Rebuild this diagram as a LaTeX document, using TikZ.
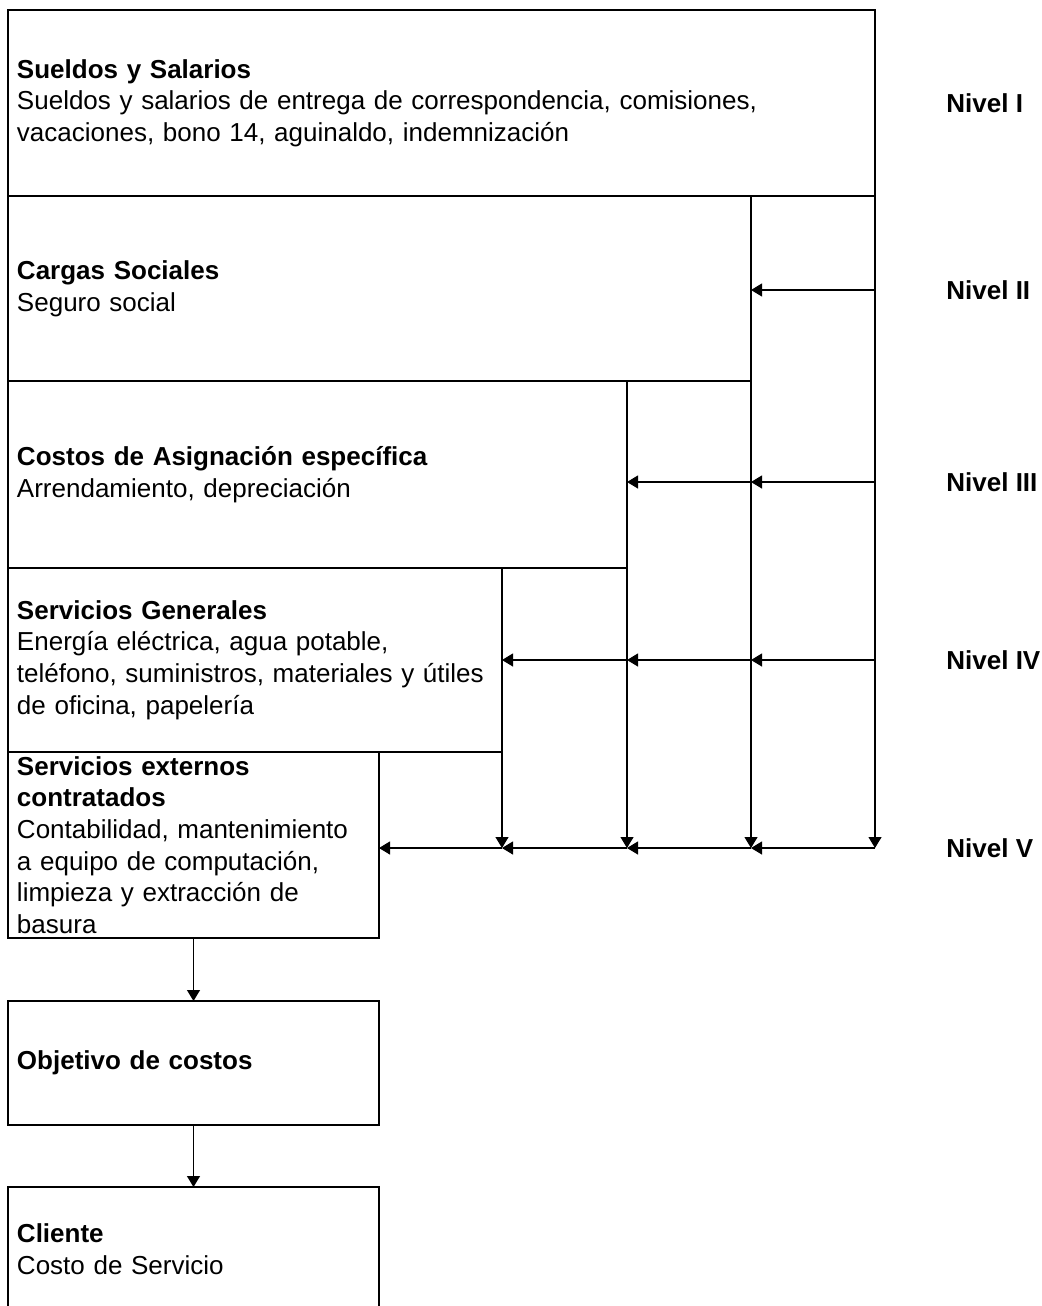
\documentclass[tikz,border=0pt]{standalone}
\usepackage{fontspec}
\setmainfont{Liberation Sans}
\usetikzlibrary{arrows.meta}

\begin{document}
\begin{tikzpicture}[
       x=0.5pt, y=-0.5pt,
       box_style/.style={draw, black, line width=0.6pt, anchor=north west, outer sep=0pt,
           inner xsep=4.5pt, inner ysep=0pt, align=left,
           font=\fontsize{13pt}{15.8pt}\selectfont}, % 方框的样式:黑色细线,文字左对齐
       level_style/.style={anchor=west, inner sep=0pt, font=\fontsize{13pt}{15pt}\selectfont\bfseries}, % 右侧层级标签
       arrow_style/.style={draw, black, line width=0.6pt, -{Triangle[length=5.5pt,width=6.5pt]}} % 箭头的样式:实心三角
   ]

   \useasboundingbox (0,0) rectangle (1042,1306);

   % 1. 绘制五个成本层级的方框(逐级变窄)
   \node[box_style, text width=424.5pt, minimum height=93pt] (b1) at (8,10)
       {\textbf{Sueldos y Salarios}\\Sueldos y salarios de entrega de correspondencia, comisiones,\\vacaciones, bono 14, aguinaldo, indemnización};
   \node[box_style, text width=362.5pt, minimum height=92.5pt] (b2) at (8,196)
       {\textbf{Cargas Sociales}\\Seguro social};
   \node[box_style, text width=300.5pt, minimum height=93.5pt] (b3) at (8,381)
       {\textbf{Costos de Asignación específica}\\Arrendamiento, depreciación};
   \node[box_style, text width=238pt, minimum height=92pt] (b4) at (8,568)
       {\textbf{Servicios Generales}\\Energía eléctrica, agua potable,\\teléfono, suministros, materiales y útiles\\de oficina, papelería};
   \node[box_style, text width=176.5pt, minimum height=93pt] (b5) at (8,752)
       {\textbf{Servicios externos}\\\textbf{contratados}\\Contabilidad, mantenimiento\\a equipo de computación,\\limpieza y extracción de\\basura};

   % 2. 绘制下方的两个方框
   \node[box_style, text width=176.5pt, minimum height=62pt] (b6) at (8,1001)
       {\textbf{Objetivo de costos}};
   \node[box_style, text width=176.5pt, minimum height=62pt] (b7) at (8,1187)
       {\textbf{Cliente}\\Costo de Servicio};

   % 3. 右侧的层级标签
   \node[level_style] (n1) at (946,103) {Nivel I};
   \node[level_style] (n2) at (946,290) {Nivel II};
   \node[level_style] (n3) at (946,482) {Nivel III};
   \node[level_style] (n4) at (946,660) {Nivel IV};
   \node[level_style] (n5) at (946,848) {Nivel V};

   % 4. 竖线(方框右边向下延伸到 Nivel V)
   \draw[arrow_style] (b1.south east) -- (b1.east |- n5);
   \draw[arrow_style] (b2.south east) -- (b2.east |- n5);
   \draw[arrow_style] (b3.south east) -- (b3.east |- n5);
   \draw[arrow_style] (b4.south east) -- (b4.east |- n5);

   % 5. 各层级的水平箭头
   \draw[arrow_style] (b1.east |- n2) -- (b2.east |- n2);

   \draw[arrow_style] (b1.east |- n3) -- (b2.east |- n3);
   \draw[arrow_style] (b2.east |- n3) -- (b3.east |- n3);

   \draw[arrow_style] (b1.east |- n4) -- (b2.east |- n4);
   \draw[arrow_style] (b2.east |- n4) -- (b3.east |- n4);
   \draw[arrow_style] (b3.east |- n4) -- (b4.east |- n4);

   \draw[arrow_style] (b1.east |- n5) -- (b2.east |- n5);
   \draw[arrow_style] (b2.east |- n5) -- (b3.east |- n5);
   \draw[arrow_style] (b3.east |- n5) -- (b4.east |- n5);
   \draw[arrow_style] (b4.east |- n5) -- (b5.east |- n5);

   % 6. 向下的箭头:到成本目标,再到客户
   \draw[arrow_style] (b5.south) -- (b6.north);
   \draw[arrow_style] (b6.south) -- (b7.north);

   \end{tikzpicture}
\end{document}
